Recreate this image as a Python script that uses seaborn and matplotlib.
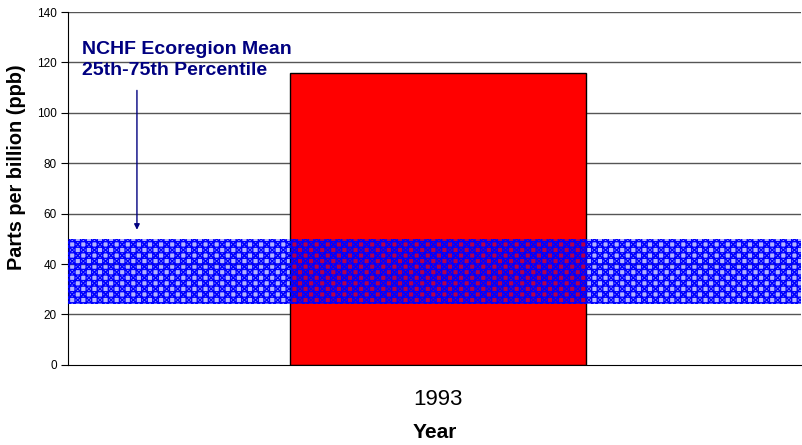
import numpy as np
import pandas as pd
import matplotlib
matplotlib.use("Agg")
import matplotlib.pyplot as plt
import seaborn as sn

# data
years = ["1993"]
ppb = [116]
band_low = 24
band_high = 50

df = pd.DataFrame({"Year": years, "ppb": ppb})

sn.set_style("white")
plt.rcParams['font.family'] = ['Liberation Sans', 'DejaVu Sans']
plt.rcParams['hatch.linewidth'] = 1.0

fig = plt.figure(figsize=(8.02, 4.45), dpi=100)
ax = fig.add_axes([0.085, 0.18, 0.914, 0.793])

# grid lines
for v in range(20, 141, 20):
    ax.axhline(v, color="#555555", lw=1, zorder=0)

sn.barplot(x="Year", y="ppb", data=df, color="#ff0000", edgecolor="black",
           linewidth=1, width=0.405, saturation=1, ax=ax, zorder=2)

# percentile band (patterned fill, background shows through)
ax.axhspan(band_low, band_high, facecolor=(0, 0, 1, 0.3), lw=0, zorder=3)
ax.axhspan(band_low, band_high, facecolor="none", edgecolor="#0000ff",
           hatch="+++xxx", lw=0, zorder=3)

ax.annotate("", xy=(-0.412, 52.5), xytext=(-0.412, 110),
            arrowprops=dict(arrowstyle="-|>", color="#000080", lw=1, mutation_scale=8))
ax.text(-0.487, 121, "NCHF Ecoregion Mean\n25th-75th Percentile", color="#000080",
        fontsize=14, fontweight="bold", va="center", ha="left", linespacing=1.3)

ax.set_xlim(-0.506, 0.496)
ax.set_ylim(0, 140)
ax.set_yticks(range(0, 141, 20))
ax.tick_params(axis="y", labelsize=8.5, length=5, pad=3, direction="out", left=True,
               color="black", labelcolor="black")
ax.tick_params(axis="x", labelsize=16, length=0, pad=17, labelcolor="black")

for s in ["top", "right"]:
    ax.spines[s].set_visible(False)
ax.spines["left"].set_color("black")
ax.spines["bottom"].set_color("black")

ax.set_ylabel("Parts per billion (ppb)", fontsize=14.3, fontweight="bold", color="black")
ax.yaxis.set_label_coords(-0.057, 0.56)
ax.set_xlabel("Year", fontsize=15, fontweight="bold", labelpad=10, color="black")

plt.savefig("out.png", dpi=100)
